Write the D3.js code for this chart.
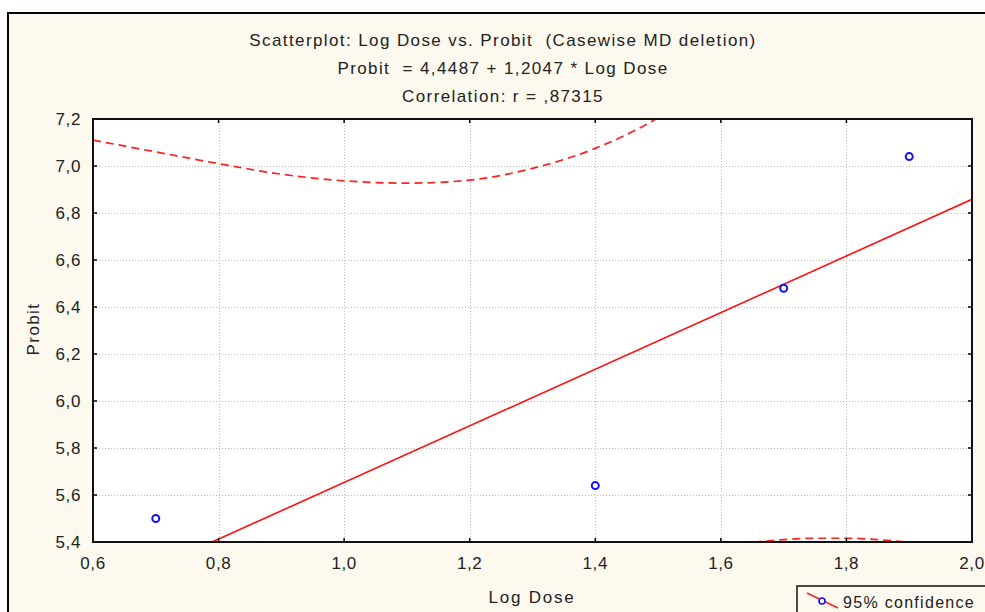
<!DOCTYPE html>
<html>
<head>
<meta charset="utf-8">
<script src="https://cdn.jsdelivr.net/npm/d3@7"></script>
<style>
  html, body { margin: 0; padding: 0; background: #ffffff; }
  svg { display: block; }
  text { font-family: "Liberation Sans", Arial, sans-serif; fill: #222; }
</style>
</head>
<body>
<svg id="chart" width="985" height="612"></svg>
<script>
// ---- data ----
const titleLines = [
  "Scatterplot: Log Dose vs. Probit  (Casewise MD deletion)",
  "Probit  = 4,4487 + 1,2047 * Log Dose",
  "Correlation: r = ,87315"
];
const xTicks = [0.6, 0.8, 1.0, 1.2, 1.4, 1.6, 1.8, 2.0];
const yTicks = [5.4, 5.6, 5.8, 6.0, 6.2, 6.4, 6.6, 6.8, 7.0, 7.2];
const logDose = [0.7, 1.4, 1.7, 1.9];
const probit  = [5.50, 5.64, 6.48, 7.04];
const intercept = 4.4487;
const slope = 1.2047;
// 95% confidence band
const upperX = [0.6, 0.7, 0.8, 0.9, 1.0, 1.1, 1.2, 1.3, 1.4, 1.5, 1.55];
const upperY = [7.11, 7.06, 7.01, 6.965, 6.937, 6.927, 6.94, 6.99, 7.075, 7.205, 7.29];
const lowerX = [1.55, 1.6, 1.65, 1.7, 1.75, 1.8, 1.85, 1.9, 1.95];
const lowerY = [5.35, 5.378, 5.398, 5.41, 5.416, 5.416, 5.41, 5.398, 5.38];
const xLabel = "Log Dose";
const yLabel = "Probit";
const legendLabel = "95% confidence";

// ---- layout ----
const svg = d3.select("#chart");
const panelColor = "#fdf9ef";
const plot = { left: 93, right: 972, top: 119, bottom: 542 };

svg.append("rect").attr("x", 8).attr("y", 13).attr("width", 1000).attr("height", 620)
  .attr("fill", panelColor).attr("stroke", "#000").attr("stroke-width", 2);

const x = d3.scaleLinear().domain([0.6, 2.0]).range([plot.left, plot.right]);
const y = d3.scaleLinear().domain([5.4, 7.2]).range([plot.bottom, plot.top]);
const fmt = v => d3.format(".1f")(v).replace(".", ",");

// plot background
svg.append("rect").attr("x", plot.left).attr("y", plot.top)
  .attr("width", plot.right - plot.left).attr("height", plot.bottom - plot.top)
  .attr("fill", "#ffffff");

// gridlines
const grid = svg.append("g").attr("stroke", "#bdbdbd").attr("stroke-width", 1)
  .attr("stroke-dasharray", "1,2").attr("shape-rendering", "crispEdges");
grid.selectAll(".vg").data(xTicks.slice(1, -1)).enter().append("line")
  .attr("x1", d => Math.round(x(d)) + 0.5).attr("x2", d => Math.round(x(d)) + 0.5)
  .attr("y1", plot.top).attr("y2", plot.bottom);
grid.selectAll(".hg").data(yTicks.slice(1, -1)).enter().append("line")
  .attr("y1", d => Math.round(y(d)) + 0.5).attr("y2", d => Math.round(y(d)) + 0.5)
  .attr("x1", plot.left).attr("x2", plot.right);

// clip
svg.append("clipPath").attr("id", "clip").append("rect")
  .attr("x", plot.left).attr("y", plot.top)
  .attr("width", plot.right - plot.left).attr("height", plot.bottom - plot.top);
const inner = svg.append("g").attr("clip-path", "url(#clip)");

// confidence bands
const band = d3.line().x(d => x(d[0])).y(d => y(d[1])).curve(d3.curveMonotoneX);
inner.append("path").datum(upperX.map((v, i) => [v, upperY[i]]))
  .attr("d", band).attr("fill", "none").attr("stroke", "#ff2020")
  .attr("stroke-width", 1.7).attr("stroke-dasharray", "8,5");
inner.append("path").datum(lowerX.map((v, i) => [v, lowerY[i]]))
  .attr("d", band).attr("fill", "none").attr("stroke", "#ff2020")
  .attr("stroke-width", 1.7).attr("stroke-dasharray", "8,5");

// regression line
const xd = x.domain();
inner.append("line")
  .attr("x1", x(xd[0])).attr("y1", y(intercept + slope * xd[0]))
  .attr("x2", x(xd[1])).attr("y2", y(intercept + slope * xd[1]))
  .attr("stroke", "#ff1010").attr("stroke-width", 1.6);

// points
svg.selectAll(".pt").data(logDose).enter().append("circle")
  .attr("cx", d => x(d)).attr("cy", (d, i) => y(probit[i])).attr("r", 3.5)
  .attr("fill", "#ffffff").attr("stroke", "#1010ff").attr("stroke-width", 2);

// axes (ticks inside, all four sides)
const tickLen = 4;
const axG = svg.append("g").attr("stroke", "#000").attr("stroke-width", 1.5);
xTicks.forEach(t => {
  axG.append("line").attr("x1", x(t)).attr("x2", x(t)).attr("y1", plot.bottom).attr("y2", plot.bottom - tickLen);
  axG.append("line").attr("x1", x(t)).attr("x2", x(t)).attr("y1", plot.top).attr("y2", plot.top + tickLen);
});
yTicks.forEach(t => {
  axG.append("line").attr("y1", y(t)).attr("y2", y(t)).attr("x1", plot.left).attr("x2", plot.left + tickLen);
  axG.append("line").attr("y1", y(t)).attr("y2", y(t)).attr("x1", plot.right).attr("x2", plot.right - tickLen);
});
svg.append("rect").attr("x", plot.left).attr("y", plot.top)
  .attr("width", plot.right - plot.left).attr("height", plot.bottom - plot.top)
  .attr("fill", "none").attr("stroke", "#111").attr("stroke-width", 2);

// tick labels
svg.selectAll(".xl").data(xTicks).enter().append("text")
  .attr("x", d => x(d)).attr("y", 569).attr("text-anchor", "middle")
  .attr("font-size", 17).attr("letter-spacing", 0.6).text(fmt);
svg.selectAll(".yl").data(yTicks).enter().append("text")
  .attr("x", 81).attr("y", d => y(d) + 6).attr("text-anchor", "end")
  .attr("font-size", 17).attr("letter-spacing", 0.6).text(fmt);

// titles
const titleY = [46, 74, 102];
svg.selectAll(".tt").data(titleLines).enter().append("text")
  .attr("x", 503).attr("y", (d, i) => titleY[i]).attr("text-anchor", "middle")
  .attr("font-size", 17).attr("letter-spacing", 1.4)
  .style("white-space", "pre").attr("xml:space", "preserve").text(d => d);

// axis titles
svg.append("text").attr("x", 532).attr("y", 603).attr("text-anchor", "middle")
  .attr("font-size", 17).attr("letter-spacing", 1.8).text(xLabel);
svg.append("text").attr("transform", "translate(39,329) rotate(-90)")
  .attr("text-anchor", "middle").attr("font-size", 17).attr("letter-spacing", 1.4).text(yLabel);

// legend
svg.append("rect").attr("x", 797).attr("y", 586).attr("width", 220).attr("height", 40)
  .attr("fill", panelColor).attr("stroke", "#111").attr("stroke-width", 1.5);
svg.append("line").attr("x1", 807).attr("y1", 593).attr("x2", 838).attr("y2", 608)
  .attr("stroke", "#ff2020").attr("stroke-width", 1.4);
svg.append("circle").attr("cx", 822).attr("cy", 601).attr("r", 3)
  .attr("fill", "#ffffff").attr("stroke", "#1010ff").attr("stroke-width", 1.6);
svg.append("text").attr("x", 843).attr("y", 608).attr("font-size", 16)
  .attr("letter-spacing", 1.3).text(legendLabel);
</script>
</body>
</html>
